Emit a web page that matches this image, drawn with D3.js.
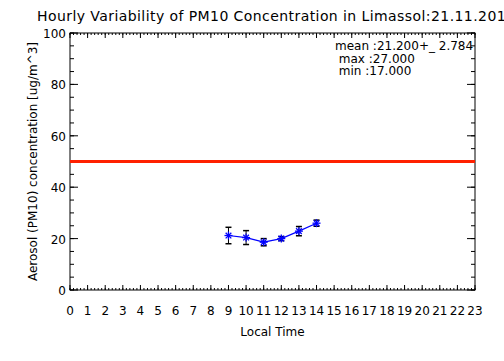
<!DOCTYPE html>
<html>
<head>
<meta charset="utf-8">
<script src="https://cdn.jsdelivr.net/npm/d3@7"></script>
<style>
  body { margin: 0; background: #fff; }
  text { font-family: "DejaVu Sans", sans-serif; fill: #000; }
</style>
</head>
<body>
<svg id="chart" width="504" height="361"></svg>
<script>
// hourly data
var hours = [9, 10, 11, 12, 13, 14];
var pm10 = [21.2, 20.4, 18.6, 20.0, 22.9, 26.0];
var errs = [3.2, 2.7, 1.4, 0.8, 1.8, 1.2];
var limit = 50;
var xTicks = d3.range(0, 24);
var yTicks = [0, 20, 40, 60, 80, 100];
var stats = ["mean :21.200+_ 2.784", " max :27.000", " min :17.000"];

var margin = {top: 33, right: 29, bottom: 71, left: 70},
    width = 504 - margin.left - margin.right,
    height = 361 - margin.top - margin.bottom;

var svg = d3.select("#chart")
  .append("g")
  .attr("transform", "translate(" + margin.left + "," + margin.top + ")");

var x = d3.scaleLinear().domain([0, 23]).range([0, width]);
var y = d3.scaleLinear().domain([0, 100]).range([height, 0]);

// frame
svg.append("rect")
  .attr("width", width).attr("height", height)
  .attr("fill", "none").attr("stroke", "#000").attr("stroke-width", 1);

// minor + major ticks, all four sides
var xMinor = d3.range(0, 23.0001, 0.2);
var yMinor = d3.range(0, 100.0001, 5);

function tickLines(vals, len, isX) {
  vals.forEach(function(v) {
    if (isX) {
      svg.append("line").attr("x1", x(v)).attr("x2", x(v)).attr("y1", height).attr("y2", height - len).attr("stroke", "#000");
      svg.append("line").attr("x1", x(v)).attr("x2", x(v)).attr("y1", 0).attr("y2", len).attr("stroke", "#000");
    } else {
      svg.append("line").attr("y1", y(v)).attr("y2", y(v)).attr("x1", 0).attr("x2", len).attr("stroke", "#000");
      svg.append("line").attr("y1", y(v)).attr("y2", y(v)).attr("x1", width).attr("x2", width - len).attr("stroke", "#000");
    }
  });
}
tickLines(xMinor, 2, true);
tickLines(xTicks, 5, true);
tickLines(yMinor, 4, false);
tickLines(yTicks, 8, false);

// tick labels
svg.selectAll(".xl").data(xTicks).enter().append("text")
  .attr("x", function(d) { return x(d); })
  .attr("y", height + 25)
  .attr("text-anchor", "middle")
  .attr("font-size", 12)
  .text(function(d) { return d; });

svg.selectAll(".yl").data(yTicks).enter().append("text")
  .attr("x", -4)
  .attr("y", function(d) { return y(d) + 5; })
  .attr("text-anchor", "end")
  .attr("font-size", 12)
  .text(function(d) { return d; });

// limit line
svg.append("line")
  .attr("x1", 0).attr("x2", width)
  .attr("y1", y(limit)).attr("y2", y(limit))
  .attr("stroke", "#ff2000").attr("stroke-width", 3);

// error bars
var eb = svg.selectAll(".eb").data(hours).enter().append("g");
eb.append("line")
  .attr("x1", function(d) { return x(d); }).attr("x2", function(d) { return x(d); })
  .attr("y1", function(d, i) { return y(pm10[i] - errs[i]); })
  .attr("y2", function(d, i) { return y(pm10[i] + errs[i]); })
  .attr("stroke", "#000");
[-1, 1].forEach(function(s) {
  eb.append("line")
    .attr("x1", function(d) { return x(d) - 3; }).attr("x2", function(d) { return x(d) + 3; })
    .attr("y1", function(d, i) { return y(pm10[i] + s * errs[i]); })
    .attr("y2", function(d, i) { return y(pm10[i] + s * errs[i]); })
    .attr("stroke", "#000").attr("stroke-width", 1.5);
});

// connecting line
var line = d3.line()
  .x(function(d, i) { return x(hours[i]); })
  .y(function(d) { return y(d); });
svg.append("path").datum(pm10)
  .attr("d", line)
  .attr("fill", "none").attr("stroke", "#0000ff").attr("stroke-width", 1.2);

// asterisk markers
var star = svg.selectAll(".st").data(pm10).enter().append("g")
  .attr("transform", function(d, i) { return "translate(" + x(hours[i]) + "," + y(d) + ")"; });
[0, 45, 90, 135].forEach(function(a) {
  star.append("line")
    .attr("x1", -4).attr("x2", 4).attr("y1", 0).attr("y2", 0)
    .attr("transform", "rotate(" + a + ")")
    .attr("stroke", "#0000ff").attr("stroke-width", 1.3);
});

// stats text
svg.selectAll(".stat").data(stats).enter().append("text")
  .attr("x", 265)
  .attr("y", function(d, i) { return 17 + i * 12.5; })
  .attr("font-size", 12)
  .attr("xml:space", "preserve")
  .style("white-space", "pre")
  .text(function(d) { return d; });

// titles
d3.select("#chart").append("text")
  .attr("x", 37).attr("y", 21)
  .attr("font-size", 14)
  .attr("textLength", 478)
  .text("Hourly Variability of PM10 Concentration in Limassol:21.11.2011");

d3.select("#chart").append("text")
  .attr("x", margin.left + width / 2).attr("y", 336)
  .attr("text-anchor", "middle")
  .attr("font-size", 12)
  .text("Local Time");

d3.select("#chart").append("text")
  .attr("transform", "translate(37," + (margin.top + height / 2) + ") rotate(-90)")
  .attr("text-anchor", "middle")
  .attr("font-size", 12)
  .text("Aerosol (PM10) concentration [ug/m^3]");
</script>
</body>
</html>
